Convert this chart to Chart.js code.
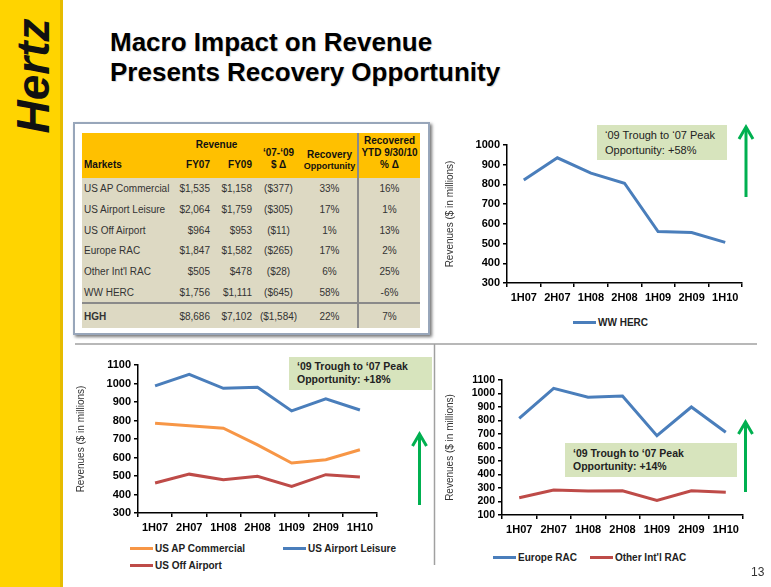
<!DOCTYPE html>
<html>
<head>
<meta charset="utf-8">
<script src="https://cdn.jsdelivr.net/npm/chart.js@4.4.1/dist/chart.umd.min.js"></script>
<style>
  body { margin:0; width:771px; height:587px; position:relative; overflow:hidden; background:#fff;
         font-family:'Liberation Sans', Arial, sans-serif; }
  .abs { position:absolute; }
  #sidebar { left:0; top:0; width:60px; height:587px; background:#FFD400; border-right:3px solid #E6BC00; }
  #logo { left:-32px; top:53px; width:130px; height:46px; line-height:46px; text-align:center;
          font-size:46px; font-weight:bold; font-style:italic; color:#111; transform:rotate(-90deg); }
  #title { left:110px; top:27px; font-size:26px; font-weight:bold; line-height:30px; color:#000;
           text-shadow:1px 1px 1px rgba(0,0,0,0.15); }
  #tblbox { left:73px; top:122px; width:353px; height:209px; border:2px solid #98A6BA;
            box-shadow:2px 2px 3px #777; background:#fff; }
  #tbl { left:82px; top:133px; width:338px; border-collapse:collapse; table-layout:fixed;
         font-size:10px; color:#333; }
  #tbl td { padding:0; white-space:nowrap; }
  #tbl thead td { background:#FFC000; font-weight:bold; color:#111; vertical-align:bottom;
                  line-height:12px; padding-bottom:7px; }
  #tbl thead tr.h1 td.rev { vertical-align:middle; padding-bottom:0; text-align:center; height:24px; }
  #tbl tbody td { background:#DDD9C3; height:20.7px; vertical-align:middle; }
  #tbl tbody tr.total td { height:24px; border-top:2px solid #8A8A8A; font-weight:bold; }
  #tbl tbody tr.total td.num { font-weight:normal; }
  #tbl .last { border-left:2px solid #8A8A8A; }
  .l { text-align:left; padding-left:2px !important; }
  .r { text-align:right; padding-right:3px !important; }
  .c { text-align:center; }
  .note { background:#D7E4BD; color:#222; }
  .legend { font-size:10px; font-weight:bold; color:#222; }
  .item { display:flex; align-items:center; height:14px; }
  .sw { display:inline-block; width:23px; height:3px; margin-right:2px; }
  #page { left:751px; top:565px; font-size:12px; color:#333; }
</style>
</head>
<body>
<div id="sidebar" class="abs"></div>
<div id="logo" class="abs">Hertz</div>
<div id="title" class="abs">Macro Impact on Revenue<br>Presents Recovery Opportunity</div>

<div id="tblbox" class="abs"></div>
<table id="tbl" class="abs">
  <colgroup><col style="width:96px"><col style="width:35px"><col style="width:42px"><col style="width:47px"><col style="width:56px"><col style="width:62px"></colgroup>
  <thead>
    <tr class="h1">
      <td rowspan="2" class="l">Markets</td>
      <td colspan="2" class="rev">Revenue</td>
      <td rowspan="2" class="c" style="line-height:12.3px">‘07-‘09<br>$ Δ</td>
      <td rowspan="2" class="c" style="line-height:11px">Recovery<br><span style="font-size:9px;line-height:10.7px">Opportunity</span></td>
      <td rowspan="2" class="c last">Recovered<br>YTD 9/30/10<br>% Δ</td>
    </tr>
    <tr class="h2">
      <td class="r" style="height:14.3px">FY07</td>
      <td class="r">FY09</td>
    </tr>
  </thead>
  <tbody id="tbody"></tbody>
</table>

<canvas id="c1" class="abs" width="310" height="175" style="left:440px;top:130px"></canvas>
<canvas id="c2" class="abs" width="320" height="185" style="left:70px;top:350px"></canvas>
<canvas id="c3" class="abs" width="310" height="170" style="left:440px;top:365px"></canvas>

<div id="lg1" class="abs legend" style="left:573px;top:315px"></div>
<div id="lg2" class="abs legend" style="left:130px;top:541px;display:grid;grid-template-columns:153px 153px;row-gap:3px"></div>
<div id="lg3" class="abs legend" style="left:493px;top:550px;display:flex;gap:13px"></div>

<div class="abs note" style="left:597px;top:125px;height:35px;padding-left:8px;font-size:11px;line-height:14.5px;padding-top:3px;box-sizing:border-box;width:130px">‘09 Trough to ‘07 Peak<br>Opportunity: +58%</div>
<div class="abs note" style="left:289px;top:357px;width:143px;height:33px;padding-left:8px;padding-top:3px;box-sizing:border-box;font-size:10.5px;font-weight:bold;line-height:13px">‘09 Trough to ‘07 Peak<br>Opportunity: +18%</div>
<div class="abs note" style="left:565px;top:443px;width:172px;height:34px;padding-left:8px;padding-top:4px;box-sizing:border-box;font-size:10.5px;font-weight:bold;line-height:13px">‘09 Trough to ‘07 Peak<br>Opportunity: +14%</div>

<svg class="abs" style="left:0;top:0" width="771" height="587">
  <line x1="75" y1="344" x2="757" y2="344" stroke="#A0A0A0" stroke-width="1.5"/>
  <line x1="434.5" y1="344" x2="434.5" y2="565" stroke="#A0A0A0" stroke-width="1.5"/>
  <g stroke="#00B050" stroke-width="3" fill="none">
    <line x1="746" y1="197" x2="746" y2="129"/>
    <polyline points="739,139 746,127 753,139"/>
    <line x1="419.5" y1="505" x2="419.5" y2="436"/>
    <polyline points="412.5,446 419.5,434 426.5,446"/>
    <line x1="745.5" y1="492" x2="745.5" y2="424"/>
    <polyline points="738.5,434 745.5,422 752.5,434"/>
  </g>
</svg>
<div id="page" class="abs">13</div>

<script>
// half-year periods on the x axis
const halves = ["1H07", "2H07", "1H08", "2H08", "1H09", "2H09", "1H10"];

// revenues ($ in millions)
const wwHerc = [823, 935, 857, 806, 561, 556, 506];
const usApCommercial = [785, 771, 758, 668, 570, 588, 642];
const usAirportLeisure = [987, 1050, 974, 980, 852, 917, 857];
const usOffAirport = [462, 510, 480, 498, 444, 507, 494];
const europeRac = [816, 1038, 972, 981, 687, 900, 713];
const otherIntlRac = [228, 285, 278, 280, 207, 280, 268];

// table
const markets = ["US AP Commercial", "US Airport Leisure", "US Off Airport", "Europe RAC", "Other Int'l RAC", "WW HERC", "HGH"];
const fy07 = ["$1,535", "$2,064", "$964", "$1,847", "$505", "$1,756", "$8,686"];
const fy09 = ["$1,158", "$1,759", "$953", "$1,582", "$478", "$1,111", "$7,102"];
const delta0709 = ["($377)", "($305)", "($11)", "($265)", "($28)", "($645)", "($1,584)"];
const recoveryOpp = ["33%", "17%", "1%", "17%", "6%", "58%", "22%"];
const recoveredYtd = ["16%", "1%", "13%", "2%", "25%", "-6%", "7%"];

const BLUE = "#4A7EBB", ORANGE = "#F79646", RED = "#BE4B48";

// fill the table body
const tbody = document.getElementById("tbody");
markets.forEach((m, i) => {
  const tr = document.createElement("tr");
  if (m === "HGH") tr.className = "total";
  tr.innerHTML =
    `<td class="l">${m}</td><td class="r num">${fy07[i]}</td><td class="r num">${fy09[i]}</td>` +
    `<td class="c num">${delta0709[i]}</td><td class="c num">${recoveryOpp[i]}</td><td class="c num last">${recoveredYtd[i]}</td>`;
  tbody.appendChild(tr);
});

Chart.defaults.font.family = "'Liberation Sans', Arial, sans-serif";

const lineChart = (id, series, yMin, yMax, yWidth, pad, titlePad, tickSize) => {
  return new Chart(document.getElementById(id), {
    type: "line",
    data: {
      labels: halves,
      datasets: series.map((s) => ({
        label: s.label,
        data: s.data,
        borderColor: s.color,
        backgroundColor: s.color,
        borderWidth: 3,
        pointRadius: 0,
        tension: 0,
        fill: false,
      })),
    },
    options: {
      responsive: false,
      animation: false,
      layout: { padding: pad },
      plugins: { legend: { display: false }, tooltip: { enabled: false } },
      scales: {
        x: {
          offset: true,
          grid: { offset: true, drawOnChartArea: false, color: "#000", lineWidth: 1.5, tickLength: 4 },
          border: { color: "#000", width: 1.5 },
          ticks: { color: "#000", font: { size: 11, weight: "bold" }, padding: 4, maxRotation: 0, autoSkip: false },
          afterFit: (s) => { s.height = 20; },
        },
        y: {
          min: yMin,
          max: yMax,
          grid: { drawOnChartArea: false, color: "#000", lineWidth: 1.5, tickLength: 4 },
          border: { color: "#000", width: 1.5 },
          ticks: {
            stepSize: 100,
            color: "#000",
            font: { size: tickSize, weight: "bold" },
            padding: 3,
            autoSkip: false,
            callback: (v) => String(v), // no thousands separator
          },
          title: {
            display: true,
            text: "Revenues ($ in millions)",
            color: "#333",
            font: { size: 10 },
            padding: { top: titlePad, bottom: 0 },
          },
          afterFit: (s) => { s.width = yWidth; },
        },
      },
    },
  });
};

const chart1 = lineChart("c1", [{ label: "WW HERC", data: wwHerc, color: BLUE }],
  300, 1000, 67, { top: 15, right: 8, bottom: 2, left: 0 }, 4, 11);
const chart2 = lineChart("c2", [
    { label: "US AP Commercial", data: usApCommercial, color: ORANGE },
    { label: "US Airport Leisure", data: usAirportLeisure, color: BLUE },
    { label: "US Off Airport", data: usOffAirport, color: RED },
  ], 300, 1100, 68, { top: 15, right: 13, bottom: 2, left: 0 }, 5, 11);
const chart3 = lineChart("c3", [
    { label: "Europe RAC", data: europeRac, color: BLUE },
    { label: "Other Int'l RAC", data: otherIntlRac, color: RED },
  ], 100, 1100, 62, { top: 15, right: 7, bottom: 0, left: 0 }, 4, 10.5);

// simple html legends built from each chart's datasets
const buildLegend = (chart, elId) => {
  const el = document.getElementById(elId);
  chart.data.datasets.forEach((ds) => {
    const item = document.createElement("div");
    item.className = "item";
    item.innerHTML = `<span class="sw" style="background:${ds.borderColor}"></span><span>${ds.label}</span>`;
    el.appendChild(item);
  });
};
buildLegend(chart1, "lg1");
buildLegend(chart2, "lg2");
buildLegend(chart3, "lg3");
</script>
</body>
</html>
